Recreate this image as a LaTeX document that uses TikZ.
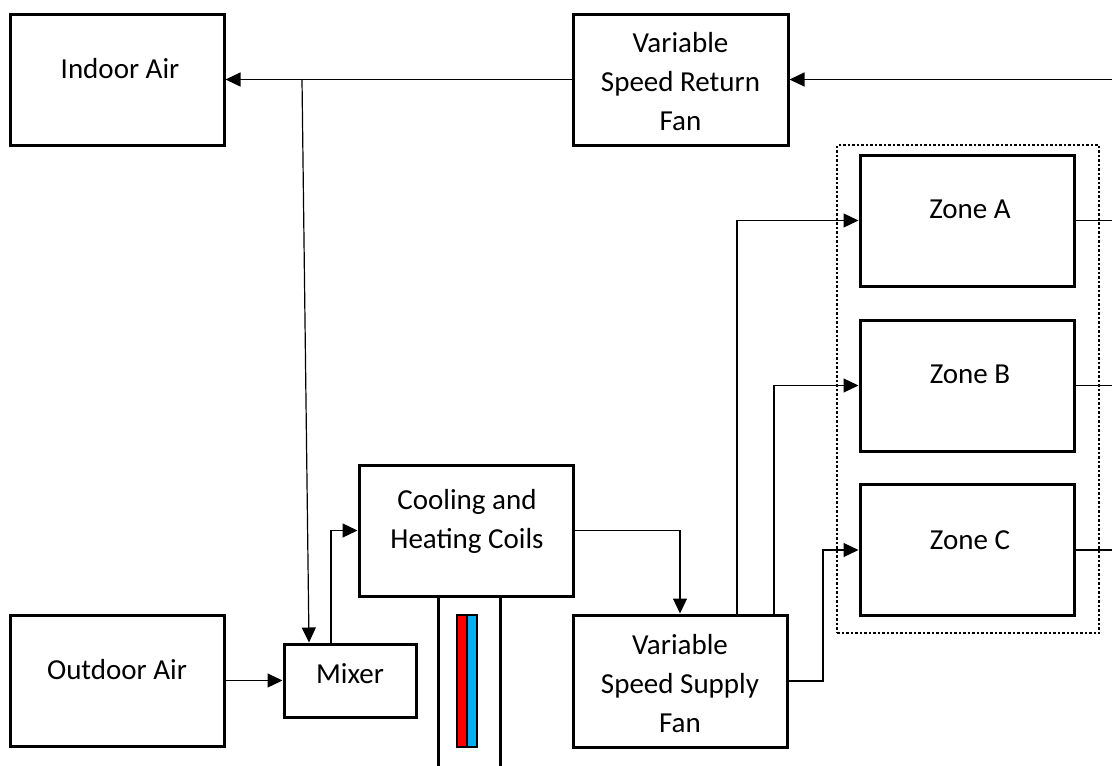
\documentclass[tikz,border=0pt]{standalone}
\usepackage{fontspec}
\setmainfont{Carlito}
\usetikzlibrary{arrows.meta,calc}
\definecolor{coilred}{RGB}{255,0,0}
\definecolor{coilblue}{RGB}{0,176,240}
\tikzset{
  box/.style={draw, line width=3pt, minimum width=214pt, minimum height=131pt, inner sep=0pt},
  lbl/.style={anchor=base, align=center, font=\fontsize{29}{38.8}\selectfont, inner sep=0pt},
  flow/.style={line width=1.2pt, -{Triangle[length=15pt,width=14pt]}},
  wire/.style={line width=1.2pt},
  grp/.style={draw, line width=2.5pt, dash pattern=on 2.5pt off 2pt, minimum width=262pt, minimum height=488pt, inner sep=0pt},
  pipe/.style={line width=3pt},
  coilbar/.style={draw, line width=2pt}
}
\begin{document}
\begin{tikzpicture}[x=1pt,y=-1pt]
\useasboundingbox (0,0) rectangle (1112,766);
% group of zones
\node[grp] (zones) at (968,389) {};
% boxes
\node[box] (indoor) at (117,79.5) {};
\node[lbl] (indoorT) at (120,78) {Indoor Air};
\node[box, minimum width=215pt] (retfan) at (680.5,79.5) {};
\node[lbl] (retfanT) at (680.5,130) {Variable\\Speed Return\\Fan};
\node[box] (outdoor) at (117,680.5) {};
\node[lbl] (outdoorT) at (117,679) {Outdoor Air};
\node[box, minimum width=132pt, minimum height=73pt] (mixer) at (350,680.5) {};
\node[lbl] (mixerT) at (350,683) {Mixer};
\node[box] (coils) at (466,530.5) {};
\node[lbl] (coilsT) at (467,548) {Cooling and\\Heating Coils};
\node[box, minimum height=132pt] (supfan) at (680,681) {};
\node[lbl] (supfanT) at (680,732) {Variable\\Speed Supply\\Fan};
\node[box] (zoneA) at (967,220.5) {};
\node[lbl] (zoneAT) at (970,218) {Zone A};
\node[box] (zoneB) at (967,385.5) {};
\node[lbl] (zoneBT) at (970,383) {Zone B};
\node[box] (zoneC) at (967,550) {};
\node[lbl] (zoneCT) at (970,549) {Zone C};
% coil duct and bars
\draw[pipe] (438,596) -- (438,766);
\draw[pipe] (500,596) -- (500,766);
\filldraw[coilbar, fill=coilred] (457,615) rectangle (467,747);
\filldraw[coilbar, fill=coilblue] (467,615) rectangle (477,747);
% connectors
\coordinate (retin) at (1112,79.5);
\coordinate (split) at (302,79.5);
\draw[flow] (retin) -- (retfan.east);
\draw[flow] (retfan.west) -- (indoor.east);
\draw[flow] (split) -- ($(mixer.north west)+(26.5,0)$);
\draw[flow] (outdoor.east) -- (mixer.west);
\draw[flow] ($(mixer.north west)+(48.5,0)$) |- (coils.west);
\draw[flow] (coils.east) -| (supfan.north);
\draw[flow] ($(supfan.north west)+(165.5,0)$) |- (zoneA.west);
\draw[flow] ($(supfan.north west)+(202.5,0)$) |- (zoneB.west);
\draw[flow] (supfan.east) -- ++(34.5,0) |- (zoneC.west);
\draw[wire] (zoneA.east) -- (zoneA.east -| retin);
\draw[wire] (zoneB.east) -- (zoneB.east -| retin);
\draw[wire] (zoneC.east) -- (zoneC.east -| retin);
\end{tikzpicture}
\end{document}
